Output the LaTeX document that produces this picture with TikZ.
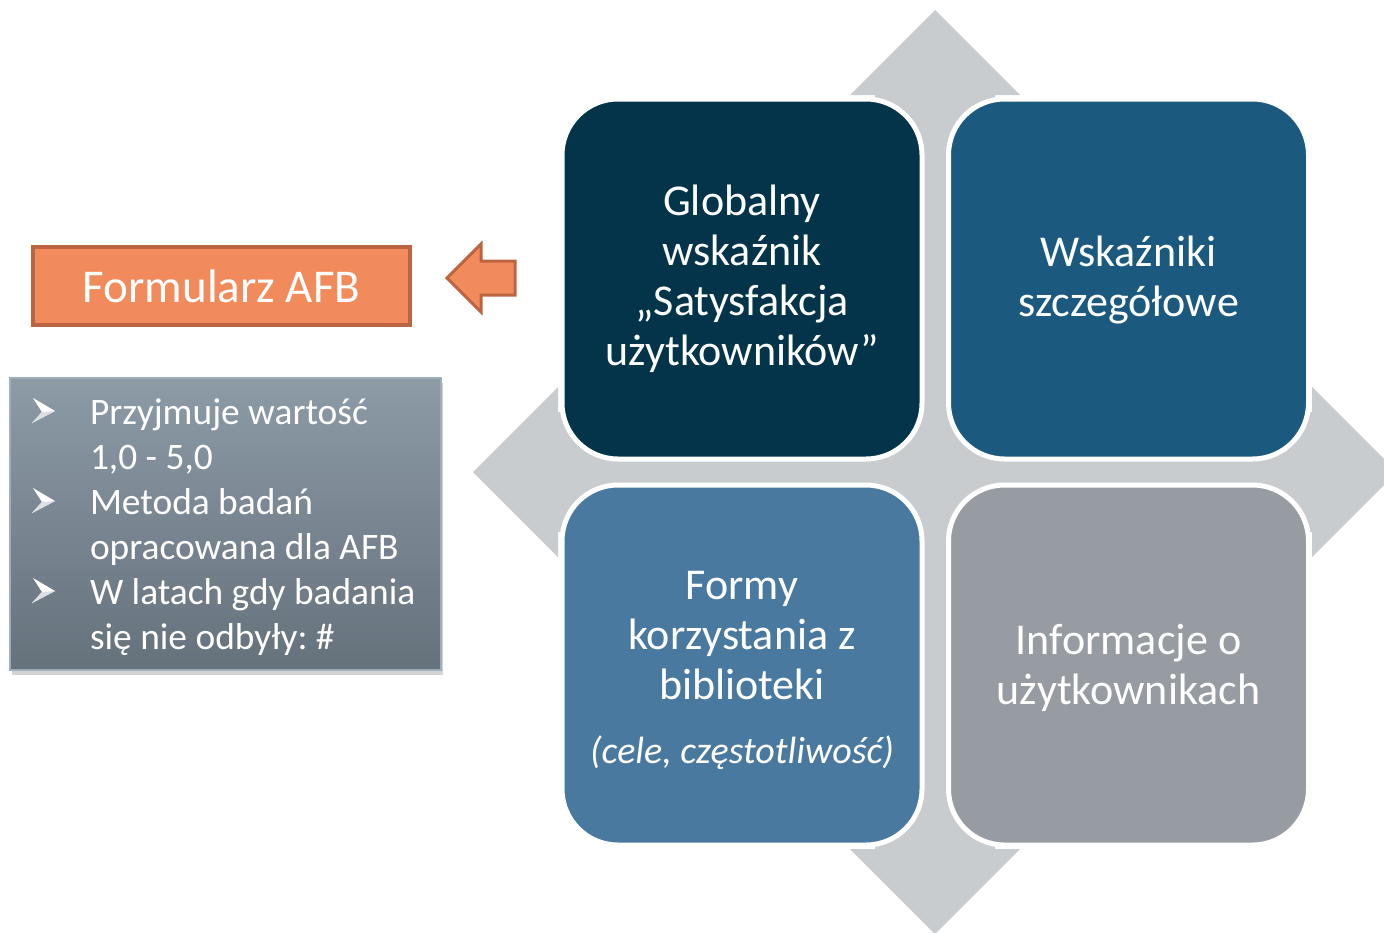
\documentclass[tikz,border=0pt]{standalone}
\usepackage{fontspec}
\setmainfont{Carlito}
\usetikzlibrary{shadows}
\definecolor{AFBnavy}{RGB}{3,52,74}
\definecolor{AFBblue}{RGB}{27,90,126}
\definecolor{AFBsteel}{RGB}{74,121,160}
\definecolor{AFBgray}{RGB}{151,155,162}
\definecolor{AFBcross}{RGB}{200,204,207}
\definecolor{AFBorange}{RGB}{241,139,92}
\definecolor{AFBrust}{RGB}{187,100,66}
\definecolor{AFBslatetop}{RGB}{141,155,167}
\definecolor{AFBslatebot}{RGB}{101,113,123}
\definecolor{AFBslateline}{RGB}{160,174,186}
\tikzset{
  afb tile/.style={
    draw=white,
    line width=2.5pt,
    rounded corners=28pt,
    minimum width=180pt,
    minimum height=180pt,
    align=center,
    inner sep=0pt,
    text=white,
    font=\fontsize{22}{25}\selectfont
  },
  afb form/.style={
    draw=AFBrust,
    fill=AFBorange,
    line width=2pt,
    minimum width=188.5pt,
    minimum height=39pt,
    inner sep=0pt,
    text=white,
    font=\fontsize{23.5}{28}\selectfont
  },
  afb blockarrow/.style={fill=AFBorange,draw=AFBrust,line width=1.5pt,line join=miter},
  afb notes/.style={
    draw=AFBslateline,
    line width=0.6pt,
    top color=AFBslatetop,
    bottom color=AFBslatebot,
    drop shadow={shadow xshift=1pt,shadow yshift=-2.5pt,opacity=0.35},
    text width=192.5pt,
    minimum height=146pt,
    inner xsep=11.5pt,
    inner ysep=0pt,
    align=left,
    text=white,
    font=\fontsize{18.7}{22.5}\selectfont\frenchspacing
  },
  afb bullet/.pic={
    \fill[white] (-10,-13) -- (12,0) -- (-11,12) -- (-1,1) -- cycle;
    \fill[white!78!AFBslatebot] (12,0) -- (-11,12) -- (-1,1) -- cycle;
  }
}

\begin{document}
\begin{tikzpicture}[x=0.5pt,y=-0.5pt]
  \useasboundingbox (0,0) rectangle (1384,932);

  \fill[AFBcross] (935,10) -- (1020,95) -- (995,95) -- (995,412) -- (1312,412)
    -- (1312,387) -- (1397,472) -- (1312,557) -- (1312,532) -- (995,532)
    -- (995,849) -- (1020,849) -- (935,934) -- (850,849) -- (875,849)
    -- (875,532) -- (558,532) -- (558,557) -- (473,472) -- (558,387)
    -- (558,412) -- (875,412) -- (875,95) -- (850,95) -- cycle;

  \node[afb tile,fill=AFBnavy] (global) at (742,279)
    {Globalny\\wskaźnik\\„Satysfakcja\\użytkowników”};
  \node[afb tile,fill=AFBblue] (detail) at (1128.5,279)
    {\rule{0pt}{16pt}Wskaźniki\\szczegółowe};
  \node[afb tile,fill=AFBsteel] (usage) at (742,665)
    {\rule{0pt}{19.2pt}Formy\\korzystania z\\biblioteki\\[7pt]
     {\fontsize{19}{25}\selectfont\itshape (cele, częstotliwość)}};
  \node[afb tile,fill=AFBgray] (users) at (1128.5,665)
    {\rule{0pt}{17.8pt}Informacje o\\użytkownikach};

  \node[afb form] (form) at (221.5,286) {Formularz AFB};

  \filldraw[afb blockarrow] (447,278) -- (481,244) -- (481,261) -- (515,261)
    -- (515,295) -- (481,295) -- (481,312) -- cycle;

  \node[afb notes] (notes) at (225.5,524) {%
    \spaceskip=0pt\xspaceskip=0pt
    \raisebox{-2pt}[\height][\depth]{%
    \begin{tabular}{@{\hspace{28.5pt}}l@{}}
      Przyjmuje wartość\\
      1,0 - 5,0\\
      Metoda badań\\
      opracowana dla AFB\\
      W latach gdy badania\\
      się nie odbyły: \#
    \end{tabular}}};
  \pic at (43,411) {afb bullet};
  \pic at (43,501) {afb bullet};
  \pic at (43,591) {afb bullet};
\end{tikzpicture}
\end{document}
